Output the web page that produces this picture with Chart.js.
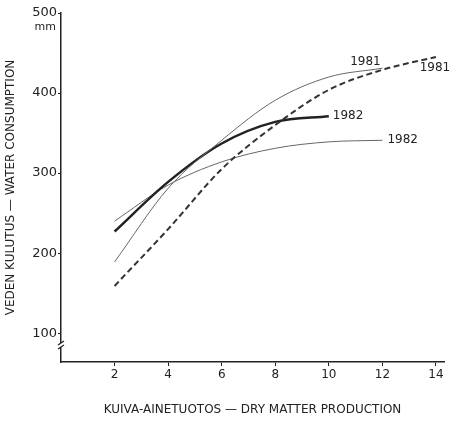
<!DOCTYPE html>
<html><head><meta charset="utf-8">
<script src="https://cdn.jsdelivr.net/npm/chart.js@4"></script>
<style>html,body{margin:0;padding:0;background:#fff}</style>
</head><body>
<canvas id="c" width="453" height="423"></canvas>
<script>
/* vesi vs kuiva-aine — 1981 / 1982 */
const X_TICKS = [2,4,6,8,10,12,14];
const Y_TICKS = [100,200,300,400,500];
const xThin81  = [2,4,6,8,10,12];
const thin1981 = [189,281,341,391,420,431];
const xDash81  = [2,4,6,8,10,12,14];
const dash1981 = [159,230,305,360,404,429,445];
const xThick82 = [2,4,6,8,10];
const thick1982= [227,289,337,364,371];
const xThin82  = [2,4,6,8,10,12];
const thin1982 = [240,285,314,331,339,341];
const NAMES = ['1981','1981','1982','1982'];
const FONT = 'DejaVu Sans';
const pts = (xs,ys) => xs.map((x,i)=>({x, y:ys[i]}));

// label placement relative to last point: [dx, dy, align]
const LBL = [[-17,-6,'center'],[-1,11,'center'],[4,0,'left'],[5,0,'left']];

const extras = {
  id:'extras',
  afterDatasetsDraw(ch){
    const c = ch.ctx, xs = ch.scales.x, ys = ch.scales.y;
    c.save();
    c.fillStyle = '#222';
    c.font = `12px ${FONT}`;
    c.textBaseline = 'middle';
    ch.data.datasets.forEach((ds,i)=>{
      const p = ds.data[ds.data.length-1];
      const px = xs.getPixelForValue(p.x), py = ys.getPixelForValue(p.y);
      c.textAlign = LBL[i][2];
      c.fillText(NAMES[i], px+LBL[i][0], py+LBL[i][1]);
    });
    // unit labels
    c.textAlign = 'right';
    c.font = `11px ${FONT}`;
    c.fillText('mm', 56, ys.getPixelForValue(500)+14);
    c.fillText('×10² g/m²', 444, xs.bottom+21);
    // axis break on y
    const bx = xs.left, by = ys.bottom-17;
    c.fillStyle = '#fff';
    c.fillRect(bx-3, by-2, 6, 4);
    c.strokeStyle = '#222'; c.lineWidth = 1.2;
    c.beginPath();
    c.moveTo(bx-3, by); c.lineTo(bx+3, by-4);
    c.moveTo(bx-3, by+4); c.lineTo(bx+3, by);
    c.stroke();
    c.restore();
  }
};

new Chart(document.getElementById('c'), {
  type:'line',
  data:{datasets:[
    {data:pts(xThin81,thin1981), borderColor:'#666', borderWidth:1},
    {data:pts(xDash81,dash1981), borderColor:'#333', borderWidth:2, borderDash:[6,3.5]},
    {data:pts(xThick82,thick1982), borderColor:'#222', borderWidth:2.5},
    {data:pts(xThin82,thin1982), borderColor:'#666', borderWidth:1}
  ].map(d=>Object.assign(d,{fill:false, pointRadius:0, cubicInterpolationMode:'monotone'}))},
  plugins:[extras],
  options:{
    responsive:false, devicePixelRatio:1, animation:false,
    layout:{padding:{left:0, top:13, right:9, bottom:0}},
    plugins:{legend:{display:false}, tooltip:{enabled:false}},
    scales:{
      x:{type:'linear', min:0, max:14.3,
        afterFit:s=>{s.height=61;},
        afterBuildTicks:s=>{s.ticks = X_TICKS.map(v=>({value:v}));},
        grid:{drawOnChartArea:false, tickLength:4, color:'#222'},
        border:{color:'#222', width:1.5},
        ticks:{color:'#222', padding:2, font:{family:FONT, size:12}, maxRotation:0},
        title:{display:true, text:'KUIVA-AINETUOTOS — DRY MATTER PRODUCTION', color:'#222',
          font:{family:FONT, size:12}, padding:{top:4,bottom:6}}
      },
      y:{type:'linear', min:64, max:500,
        afterFit:s=>{s.width=61;},
        afterBuildTicks:s=>{s.ticks = Y_TICKS.map(v=>({value:v}));},
        grid:{drawOnChartArea:false, tickLength:3, color:'#222'},
        border:{color:'#222', width:1.5},
        ticks:{color:'#222', padding:1, font:{family:FONT, size:13}},
        title:{display:true, text:'VEDEN KULUTUS — WATER CONSUMPTION', color:'#222',
          font:{family:FONT, size:12}, padding:{top:4,bottom:4}}
      }
    }
  }
});
</script>
</body></html>
